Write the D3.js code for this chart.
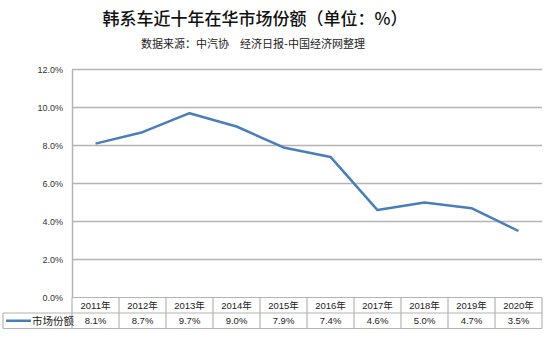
<!DOCTYPE html>
<html><head><meta charset="utf-8">
<script src="https://cdn.jsdelivr.net/npm/d3@7"></script>
<style>
body{margin:0;background:#fff;}
svg{display:block;font-family:"Liberation Sans","Noto Sans CJK SC",sans-serif;}
</style></head>
<body>
<svg id="c" width="550" height="338"></svg>
<script>
const years = ["2011年","2012年","2013年","2014年","2015年","2016年","2017年","2018年","2019年","2020年"];
const share = [8.1, 8.7, 9.7, 9.0, 7.9, 7.4, 4.6, 5.0, 4.7, 3.5];
const yTicks = [0, 2, 4, 6, 8, 10, 12];
const seriesName = "市场份额";
const titleText = "韩系车近十年在华市场份额（单位：%）";
const subtitleText = "数据来源：中汽协　经济日报-中国经济网整理";

const svg = d3.select("#c");
const L = 72, R = 542, T = 69.5, B = 297.5;
const x = d3.scaleBand().domain(years).range([L, R]);
const y = d3.scaleLinear().domain([0, 12]).range([B, T]);
const grid = "#b4b4b4";

svg.append("text").attr("x", 255).attr("y", 25).attr("text-anchor", "middle")
  .attr("font-family", "Noto Sans CJK SC").attr("font-weight", 500)
  .attr("font-size", 17).attr("fill", "#111").text(titleText);
svg.append("text").attr("x", 253).attr("y", 48).attr("text-anchor", "middle")
  .attr("font-family", "Noto Sans CJK SC")
  .attr("font-size", 11).attr("fill", "#222").text(subtitleText);

// gridlines
svg.append("g").selectAll("line").data(yTicks.filter(d => d > 0)).join("line")
  .attr("x1", L).attr("x2", R).attr("y1", d => y(d)).attr("y2", d => y(d))
  .attr("stroke", grid).attr("stroke-width", 1.5);

// y axis
const yAxis = d3.axisLeft(y).tickValues(yTicks).tickFormat(d => d.toFixed(1) + "%").tickSize(0).tickPadding(9);
const ga = svg.append("g").attr("transform", `translate(${L},0)`).call(yAxis);
ga.select(".domain").attr("stroke", grid).attr("stroke-width", 1.5);
ga.selectAll("text").attr("font-size", 9).attr("fill", "#333");

// line
const line = d3.line().x((d, i) => x(years[i]) + x.bandwidth() / 2).y(d => y(d));
svg.append("path").datum(share).attr("d", line).attr("fill", "none")
  .attr("stroke", "#4a7ebb").attr("stroke-width", 2.5).attr("stroke-linejoin", "round");

// data table
const r1 = B, r2 = 313, r3 = 328.5, tl = 3;
const tg = svg.append("g").attr("stroke", grid).attr("stroke-width", 1.2);
tg.append("line").attr("x1", L).attr("x2", R).attr("y1", r1).attr("y2", r1);
tg.append("line").attr("x1", tl).attr("x2", R).attr("y1", r2).attr("y2", r2);
tg.append("line").attr("x1", tl).attr("x2", R).attr("y1", r3).attr("y2", r3);
tg.append("line").attr("x1", tl).attr("x2", tl).attr("y1", r2).attr("y2", r3);
tg.selectAll("line.v").data(years).join("line").attr("class", "v")
  .attr("x1", d => x(d) + x.bandwidth()).attr("x2", d => x(d) + x.bandwidth())
  .attr("y1", r1).attr("y2", r3);
tg.append("line").attr("x1", L).attr("x2", L).attr("y1", r1).attr("y2", r3);

svg.append("g").selectAll("text").data(years).join("text")
  .attr("x", d => x(d) + x.bandwidth() / 2).attr("y", (r1 + r2) / 2 + 3.5)
  .attr("text-anchor", "middle").attr("font-size", 9.5).attr("fill", "#222").text(d => d);
svg.append("g").selectAll("text").data(share).join("text")
  .attr("x", (d, i) => x(years[i]) + x.bandwidth() / 2).attr("y", (r2 + r3) / 2 + 3.5)
  .attr("text-anchor", "middle").attr("font-size", 9.5).attr("fill", "#222").text(d => d.toFixed(1) + "%");

svg.append("line").attr("x1", 6).attr("x2", 31).attr("y1", (r2 + r3) / 2).attr("y2", (r2 + r3) / 2)
  .attr("stroke", "#4a7ebb").attr("stroke-width", 2.5);
svg.append("text").attr("x", 32).attr("y", (r2 + r3) / 2 + 4)
  .attr("font-family", "Noto Sans CJK SC").attr("font-size", 10.5).attr("fill", "#222").text(seriesName);
</script>
</body></html>
